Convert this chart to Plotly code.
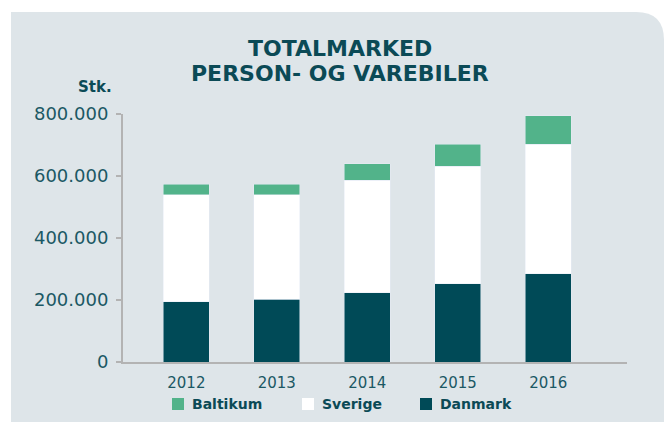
import plotly.graph_objects as go

years = ["2012", "2013", "2014", "2015", "2016"]
danmark = [194000, 203000, 223000, 252000, 284000]
sverige = [345000, 336000, 364000, 380000, 419000]
baltikum = [35000, 35000, 52000, 71000, 91000]
y_ticks = [0, 200000, 400000, 600000, 800000]
y_tick_text = ["0", "200.000", "400.000", "600.000", "800.000"]

TEAL = "#0b4a56"
TICK = "#1b5864"
PANEL = "#dee5e9"
GREEN = "#52b38a"
DARK = "#004a57"
AXIS = "#b3b3b3"

W, H = 664, 422
L, R, T, B = 123, 37, 114, 60
pw, ph = W - L - R, H - T - B

def px(x):
    return (x - L) / pw

def py(y):
    return (H - B - y) / ph

fig = go.Figure()
series = [("Danmark", danmark, DARK), ("Sverige", sverige, "#ffffff"), ("Baltikum", baltikum, GREEN)]
for name, vals, col in series:
    fig.add_trace(go.Bar(x=years, y=vals, name=name, marker_color=col, width=0.51,
                         showlegend=False))

# panel with rounded top-right corner
x0, y0, x1, y1 = px(11), py(12), px(664), py(422)
r = 28
rx, ry = r / pw, r / ph
path = (f"M {x0},{y1} L {x0},{y0} L {x1 - rx},{y0} "
        f"Q {x1},{y0} {x1},{y0 - ry} L {x1},{y1} Z")
fig.add_shape(type="path", path=path, xref="paper", yref="paper",
              fillcolor=PANEL, line_width=0, layer="below")

def note(text, x, y, size, anchor="center", color=TEAL):
    fig.add_annotation(text=text, x=px(x), y=py(y), xref="paper", yref="paper",
                       showarrow=False, font=dict(family="DejaVu Sans", size=size, color=color),
                       xanchor=anchor, yanchor="middle")

note("<b>TOTALMARKED</b>", 340, 48, 22)
note("<b>PERSON- OG VAREBILER</b>", 340, 74, 22)
note("<b>Stk.</b>", 114, 87, 15, anchor="right")

# legend (manual): Baltikum, Sverige, Danmark
legend_pos = [("Baltikum", GREEN, 172), ("Sverige", "#ffffff", 302), ("Danmark", DARK, 420)]
for name, col, lx in legend_pos:
    fig.add_shape(type="rect", xref="paper", yref="paper",
                  x0=px(lx), x1=px(lx + 12), y0=py(410), y1=py(398),
                  fillcolor=col, line_width=0)
    note(f"<b>{name}</b>", lx + 18, 404, 14, anchor="left")

fig.update_layout(
    width=W, height=H,
    margin=dict(l=L, r=R, t=T, b=B, pad=0),
    paper_bgcolor="#ffffff",
    plot_bgcolor="rgba(0,0,0,0)",
    barmode="stack",
    showlegend=False,
    xaxis=dict(type="category", range=[-0.70, 4.87], showgrid=False, zeroline=False,
               showline=True, linecolor=AXIS, linewidth=2, ticks="",
               tickfont=dict(family="DejaVu Sans", size=15, color=TICK),
               ticklabelstandoff=6, fixedrange=True),
    yaxis=dict(range=[0, 800000], tickvals=y_ticks, ticktext=y_tick_text,
               showgrid=False, zeroline=False, showline=True, linecolor=AXIS, linewidth=2,
               ticks="outside", ticklen=5, tickwidth=2, tickcolor=AXIS,
               tickfont=dict(family="DejaVu Sans", size=18, color=TICK),
               ticklabelstandoff=4, fixedrange=True),
)

fig.write_html("out.html", config={"displayModeBar": False},
               post_script="document.body.style.margin='0';document.body.style.overflow='hidden';")
